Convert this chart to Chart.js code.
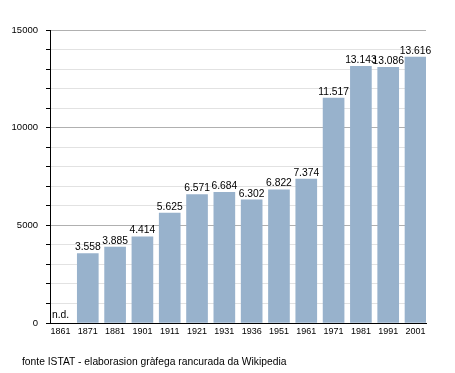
<!DOCTYPE html>
<html>
<head>
<meta charset="utf-8">
<script src="https://cdn.jsdelivr.net/npm/chart.js@4/dist/chart.umd.min.js"></script>
<style>
    body { margin: 0; background: #fff; }
    #wrap { position: relative; width: 455px; height: 373px; }
    #note {
        position: absolute; left: 22px; top: 356px;
        font: 10.3px "Liberation Sans", Arial, sans-serif; color: #000;
    }
</style>
</head>
<body>
<div id="wrap">
    <canvas id="myChart" width="455" height="373"></canvas>
    <div id="note">fonte ISTAT - elaborasion gràfega rancurada da Wikipedia</div>
</div>
<script>
// census years and population (null = n.d.)
const years = ['1861', '1871', '1881', '1901', '1911', '1921', '1931', '1936', '1951', '1961', '1971', '1981', '1991', '2001'];
const population = [null, 3558, 3885, 4414, 5625, 6571, 6684, 6302, 6822, 7374, 11517, 13143, 13086, 13616];
const yTicks = [0, 5000, 10000, 15000];

const fam = '"Liberation Sans", Arial, sans-serif';

// dots as thousands separator, like 3.558
function fmt(n) {
    return String(n).replace(/\B(?=(\d{3})+(?!\d))/g, '.');
}

const valueLabels = {
    id: 'valueLabels',
    afterDatasetsDraw(chart) {
        const ctx = chart.ctx;
        const meta = chart.getDatasetMeta(0);
        ctx.save();
        ctx.font = '10.3px ' + fam;
        ctx.fillStyle = '#000';
        ctx.textBaseline = 'bottom';
        population.forEach((v, i) => {
            if (v === null) {
                ctx.textAlign = 'left';
                ctx.fillText('n.d.', chart.chartArea.left + 2, chart.chartArea.bottom - 3);
                return;
            }
            const el = meta.data[i];
            ctx.textAlign = 'center';
            ctx.fillText(fmt(v), el.x, el.y - 1);
        });
        ctx.restore();
    }
};

const half = 0.384;

new Chart(document.getElementById('myChart'), {
    type: 'bar',
    data: {
        datasets: [{
            data: population.map((v, i) => ({ x: i, y: v })),
            backgroundColor: '#98b2cc',
            barThickness: 21
        }]
    },
    options: {
        responsive: false,
        animation: false,
        devicePixelRatio: 1,
        layout: { padding: { top: 30, right: 29, bottom: 30, left: 0 } },
        plugins: {
            legend: { display: false },
            tooltip: { enabled: false }
        },
        scales: {
            x: {
                type: 'linear',
                offset: false,
                min: -half,
                max: years.length - 1 + half,
                afterBuildTicks: axis => { axis.ticks = years.map((_, i) => ({ value: i })); },
                afterFit: scale => { scale.height = 20; },
                grid: { display: false, drawTicks: false, offset: false },
                border: { display: true, color: '#000', width: 1 },
                ticks: {
                    callback: v => years[v],
                    color: '#000',
                    font: { family: fam, size: 9 },
                    padding: 3,
                    maxRotation: 0,
                    autoSkip: false
                }
            },
            y: {
                min: 0,
                max: 15000,
                afterFit: scale => { scale.width = 50; },
                grid: {
                    color: c => (c.tick && c.tick.value % 5000 === 0) ? '#b0b0b0' : '#e2e2e2',
                    tickColor: '#000',
                    tickLength: 4
                },
                border: { display: true, color: '#000', width: 1 },
                ticks: {
                    stepSize: 1000,
                    callback: v => yTicks.includes(v) ? String(v) : '',
                    color: '#000',
                    font: { family: fam, size: 9.5 },
                    padding: 8
                }
            }
        }
    },
    plugins: [valueLabels]
});
</script>
</body>
</html>
